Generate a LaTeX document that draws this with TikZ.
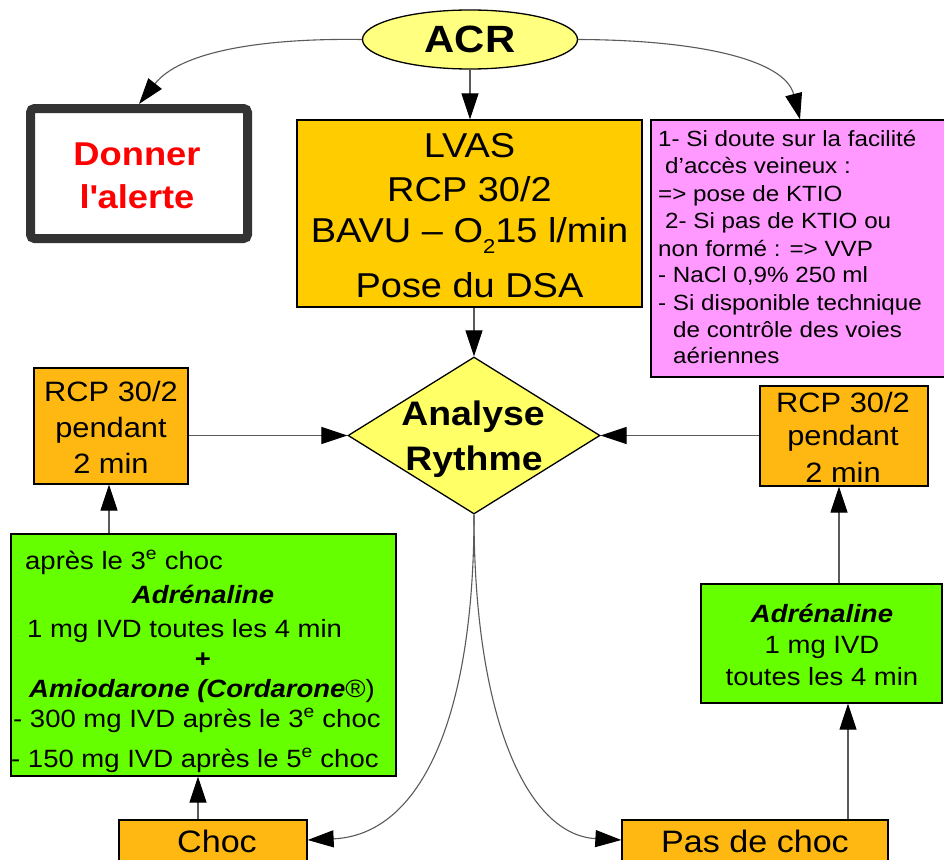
\documentclass[tikz,border=0pt]{standalone}
\usepackage{fontspec}
\setmainfont[FakeStretch=1.1]{Liberation Sans}
\usetikzlibrary{arrows.meta,shapes.geometric,calc}
\definecolor{acry}{RGB}{255,255,128}
\definecolor{diay}{RGB}{255,255,102}
\definecolor{lvaso}{RGB}{255,204,0}
\definecolor{rcpo}{RGB}{255,184,18}
\definecolor{pinkb}{RGB}{255,153,255}
\definecolor{greenb}{RGB}{102,255,0}
\definecolor{alertd}{RGB}{51,51,51}
\definecolor{linec}{RGB}{90,90,90}
\newcommand{\fs}[1]{\fontsize{#1}{#1}\selectfont}
\newcommand{\subtwo}{\raisebox{-0.32em}{\fontsize{20}{20}\selectfont 2}}
\begin{document}
\begin{tikzpicture}[x=1pt,y=-1pt,
 box/.style={draw=black, line width=1.3pt, rectangle, inner sep=0pt},
 txt/.style={inner sep=0pt, anchor=base},
 ltxt/.style={inner sep=0pt, anchor=base west},
 arr/.style={draw=linec, line width=1.1pt, -{Triangle[length=26pt,width=17pt,color=black]}},
]
\useasboundingbox (0,0) rectangle (944,859);
\fill[white] (0,0) rectangle (944,859);

% ACR
\node[ellipse, draw=black, line width=1.3pt, fill=acry, minimum width=215pt, minimum height=59pt, inner sep=0pt, font=\fs{38}\bfseries] (acr) at (470,39.5) {ACR};

% Donner l'alerte
\node[draw=alertd, line width=9pt, rounded corners=4pt, minimum width=217pt, minimum height=130pt, inner sep=0pt] (alert) at (139,173.5) {};
\node[txt, font=\fs{33}\bfseries, text=red] (al1) at (137,165) {Donner};
\node[txt, font=\fs{33}\bfseries, text=red] (al2) at (137,208) {l\textquotesingle alerte};

% LVAS box
\node[box, fill=lvaso, minimum width=345pt, minimum height=187pt] (lvas) at (469.5,213.5) {};
\node[txt, font=\fs{34.5}] (lv1) at (469.5,157) {LVAS};
\node[txt, font=\fs{34.5}] (lv2) at (469.5,201) {RCP 30/2};
\node[txt, font=\fs{34.5}] (lv3) at (469.5,242) {BAVU – O\subtwo15 l/min};
\node[txt, font=\fs{34.5}] (lv4) at (469.5,297) {Pose du DSA};

% pink box
\node[box, fill=pinkb, minimum width=295pt, minimum height=257pt] (pink) at (798.5,248.5) {};
\foreach \n/\x/\y/\t in {1/658/146/{1- Si doute sur la facilité},
  2/665/173/{d’accès veineux :},
  3/658/201/{=> pose de KTIO},
  4/665/228/{2- Si pas de KTIO ou},
  5/658/256/{non formé : => VVP},
  6/658/282/{- NaCl 0,9\% 250 ml},
  7/658/310/{- Si disponible technique},
  8/673/337/{de contrôle des voies},
  9/673/363/{aériennes}}
  \node[ltxt, font=\fs{22}] (p\n) at (\x,\y) {\t};

% diamond
\node[diamond, draw=black, line width=1.3pt, fill=diay, minimum width=252pt, minimum height=157pt, inner sep=0pt] (dia) at (474,435.5) {};
\node[txt, font=\fs{34}\bfseries] (an1) at (473,425) {Analyse};
\node[txt, font=\fs{34}\bfseries] (an2) at (474,470) {Rythme};

% RCP left
\node[box, fill=rcpo, minimum width=154pt, minimum height=116pt] (rcpl) at (111,426) {};
\node[txt, font=\fs{28}] (rl1) at (111,401) {RCP 30/2};
\node[txt, font=\fs{28}] (rl2) at (111,437) {pendant};
\node[txt, font=\fs{28}] (rl3) at (111,473) {2 min};

% RCP right
\node[box, fill=rcpo, minimum width=168pt, minimum height=100pt] (rcpr) at (844,436) {};
\node[txt, font=\fs{28}] (rr1) at (843,412) {RCP 30/2};
\node[txt, font=\fs{28}] (rr2) at (843,445) {pendant};
\node[txt, font=\fs{28}] (rr3) at (843,482) {2 min};

% green left
\node[box, fill=greenb, minimum width=385pt, minimum height=242pt] (gl) at (203.5,655) {};
\node[ltxt, font=\fs{25}] (g1) at (25,569) {après le 3\textsuperscript{e} choc};
\node[txt, font=\fs{25}\bfseries\itshape] (g2) at (203,603) {Adrénaline};
\node[ltxt, font=\fs{25}] (g3) at (27,637) {1 mg IVD toutes les 4 min};
\node[txt, font=\fs{25}\bfseries] (g4) at (203,667) {+};
\node[ltxt, font=\fs{25}] (g5) at (29,697) {\bfseries\itshape Amiodarone (Cordarone\mdseries\upshape®)};
\node[ltxt, font=\fs{25}] (g6) at (13,727) {- 300 mg IVD après le 3\textsuperscript{e} choc};
\node[ltxt, font=\fs{25}] (g7) at (11,767) {- 150 mg IVD après le 5\textsuperscript{e} choc};

% green right
\node[box, fill=greenb, minimum width=241pt, minimum height=119pt] (gr) at (821.5,643.5) {};
\node[txt, font=\fs{25}\bfseries\itshape] (h1) at (822,622) {Adrénaline};
\node[txt, font=\fs{25}] (h2) at (822,653) {1 mg IVD};
\node[txt, font=\fs{25}] (h3) at (822,685) {toutes les 4 min};

% Choc / Pas de choc
\node[box, fill=rcpo, minimum width=188pt, minimum height=60pt] (choc) at (213,850) {};
\node[txt, font=\fs{31}] (ct) at (217,852) {Choc};
\node[box, fill=rcpo, minimum width=266pt, minimum height=60pt] (pdc) at (755,850) {};
\node[txt, font=\fs{31}] (pt) at (755,852) {Pas de choc};

% connectors
\draw[arr] (acr.south) -- (acr.south |- lvas.north);
\draw[arr] (acr.west) .. controls (260,38) and (180,52) .. (alert.north);
\draw[arr] (acr.east) .. controls (700,40) and (785,60) .. ([xshift=1.5pt]pink.north);
\draw[arr] (dia.north |- lvas.south) -- (dia.north);
\draw[arr] (rcpl.east |- dia.west) -- (dia.west);
\draw[arr] (rcpr.west |- dia.east) -- (dia.east);
\draw[arr] ([xshift=-2pt]rcpl.south |- gl.north) -- ([xshift=-2pt]rcpl.south);
\draw[arr] ([xshift=-15pt]choc.north) -- ([xshift=-15pt]choc.north |- gl.south);
\draw[arr] ([xshift=-5pt]rcpr.south |- gr.north) -- ([xshift=-5pt]rcpr.south);
\draw[arr] ([xshift=93pt]pdc.north) -- ([xshift=93pt]pdc.north |- gr.south);
\draw[arr] (dia.south) .. controls (474,720) and (420,835) .. ([yshift=10pt]choc.east);
\draw[arr] (dia.south) .. controls (474,720) and (528,835) .. ([yshift=10pt]pdc.west);
\end{tikzpicture}
\end{document}
